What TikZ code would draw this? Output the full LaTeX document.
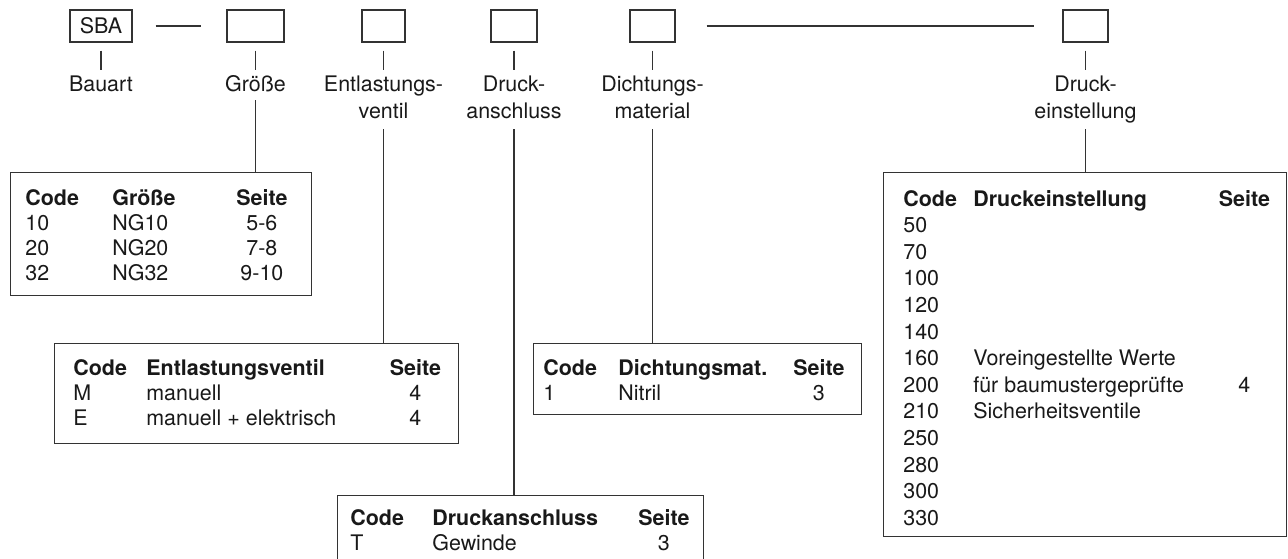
\documentclass[tikz,border=0pt]{standalone}
\usepackage{fontspec}
\setmainfont{TeX Gyre Heros}
\usepackage{tikz}
\usetikzlibrary{positioning}

\begin{document}
\begin{tikzpicture}[
    every node/.style={font=\fontsize{12.2}{14.23}\selectfont, text=black!90},
    codebox/.style={draw=black!80, line width=0.6pt, minimum height=0.64cm, inner sep=0pt},
    partlabel/.style={text width=3cm, align=center, anchor=base, inner xsep=0pt, inner ysep=0.06cm,
        text height=0.36cm, font=\fontsize{12.2}{15.9}\selectfont},
    oneline/.style={partlabel, text depth=0.12cm},
    twoline/.style={partlabel, text depth=0.70cm},
    tablebox/.style={draw=black!80, line width=0.6pt, anchor=north west, inner sep=0pt},
    tabletext/.style={anchor=base west, inner sep=0pt},
    stub/.style={draw=black!80, line width=0.6pt}
]
\clip (0,0) rectangle (25.76,-11.16);

% code boxes of the type key
\node[codebox, minimum width=1.24cm] (sba) at (2.02,-0.52) {SBA};
\node[codebox, minimum width=1.14cm] (sz) at (5.11,-0.52) {};
\node[codebox, minimum width=0.86cm] (ev) at (7.67,-0.52) {};
\node[codebox, minimum width=0.92cm] (da) at (10.28,-0.52) {};
\node[codebox, minimum width=0.90cm] (dm) at (13.05,-0.52) {};
\node[codebox, minimum width=0.90cm] (de) at (21.71,-0.52) {};

% captions under the boxes
\node[oneline] (lbauart) at (2.02,-1.82) {Bauart};
\node[oneline] (lgroesse) at (5.11,-1.82) {Größe};
\node[twoline] (lentl) at (7.67,-1.82) {Entlastungs-\\ventil};
\node[twoline] (ldruck) at (10.28,-1.82) {Druck-\\anschluss};
\node[twoline] (ldicht) at (13.05,-1.82) {Dichtungs-\\material};
\node[twoline] (leinst) at (21.71,-1.82) {Druck-\\einstellung};

\draw[stub, shorten <=0.46cm, shorten >=0.50cm] (sba) -- (sz);
\draw[stub, shorten <=0.62cm, shorten >=0.56cm] (dm) -- (de);

\draw[stub, shorten <=0.16cm] (sba) -- (lbauart);
\draw[stub, shorten <=0.16cm] (sz) -- (lgroesse);
\draw[stub, shorten <=0.16cm] (ev) -- (lentl);
\draw[stub, shorten <=0.16cm] (da) -- (ldruck);
\draw[stub, shorten <=0.16cm] (dm) -- (ldicht);
\draw[stub, shorten <=0.16cm] (de) -- (leinst);

% option tables
\node[tablebox, minimum width=6.02cm, minimum height=2.46cm] (tsz) at (0.20,-3.44) {};
\node[tabletext] (tsz-txt) at (0.50,-4.10) {\begin{tabular}[t]{@{}p{1.74cm}@{}p{2.48cm}@{}c@{}}
\textbf{Code} & \textbf{Größe} & \textbf{Seite}\\
10 & NG10 & 5-6\\
20 & NG20 & 7-8\\
32 & NG32 & 9-10
\end{tabular}};

\node[tablebox, minimum width=8.08cm, minimum height=2.00cm] (tev) at (1.08,-6.86) {};
\node[tabletext] (tev-txt) at (1.46,-7.50) {\begin{tabular}[t]{@{}p{1.46cm}@{}p{4.87cm}@{}c@{}}
\textbf{Code} & \textbf{Entlastungsventil} & \textbf{Seite}\\
M & manuell & 4\\
E & manuell + elektrisch & 4
\end{tabular}};

\node[tablebox, minimum width=6.56cm, minimum height=1.42cm] (tdm) at (10.66,-6.86) {};
\node[tabletext] (tdm-txt) at (10.86,-7.50) {\begin{tabular}[t]{@{}p{1.50cm}@{}p{3.50cm}@{}c@{}}
\textbf{Code} & \textbf{Dichtungsmat.} & \textbf{Seite}\\
1 & Nitril & 3
\end{tabular}};

\node[tablebox, minimum width=7.32cm, minimum height=1.60cm] (tda) at (6.74,-9.90) {};
\node[tabletext] (tda-txt) at (7.00,-10.50) {\begin{tabular}[t]{@{}p{1.64cm}@{}p{4.12cm}@{}c@{}}
\textbf{Code} & \textbf{Druckanschluss} & \textbf{Seite}\\
T & Gewinde & 3
\end{tabular}};

\node[tablebox, minimum width=8.06cm, minimum height=7.28cm] (tde) at (17.66,-3.44) {};
\node[tabletext, font=\fontsize{12.2}{15.14}\selectfont] (tde-txt) at (18.06,-4.12) {\begin{tabular}[t]{@{}p{1.40cm}@{}p{4.91cm}@{}c@{}}
\textbf{Code} & \textbf{Druckeinstellung} & \textbf{Seite}\\
50 & & \\
70 & & \\
100 & & \\
120 & & \\
140 & & \\
160 & Voreingestellte Werte & \\
200 & für baumustergeprüfte & 4\\
210 & Sicherheitsventile & \\
250 & & \\
280 & & \\
300 & & \\
330 & &
\end{tabular}};

% captions down to the tables
\draw[stub] (lgroesse.south) -- (lgroesse.south |- tsz.north);
\draw[stub] (lentl.south) -- (lentl.south |- tev.north);
\draw[stub] (ldruck.south) -- (ldruck.south |- tda.north);
\draw[stub] (ldicht.south) -- (ldicht.south |- tdm.north);
\draw[stub] (leinst.south) -- (leinst.south |- tde.north);

\end{tikzpicture}
\end{document}
